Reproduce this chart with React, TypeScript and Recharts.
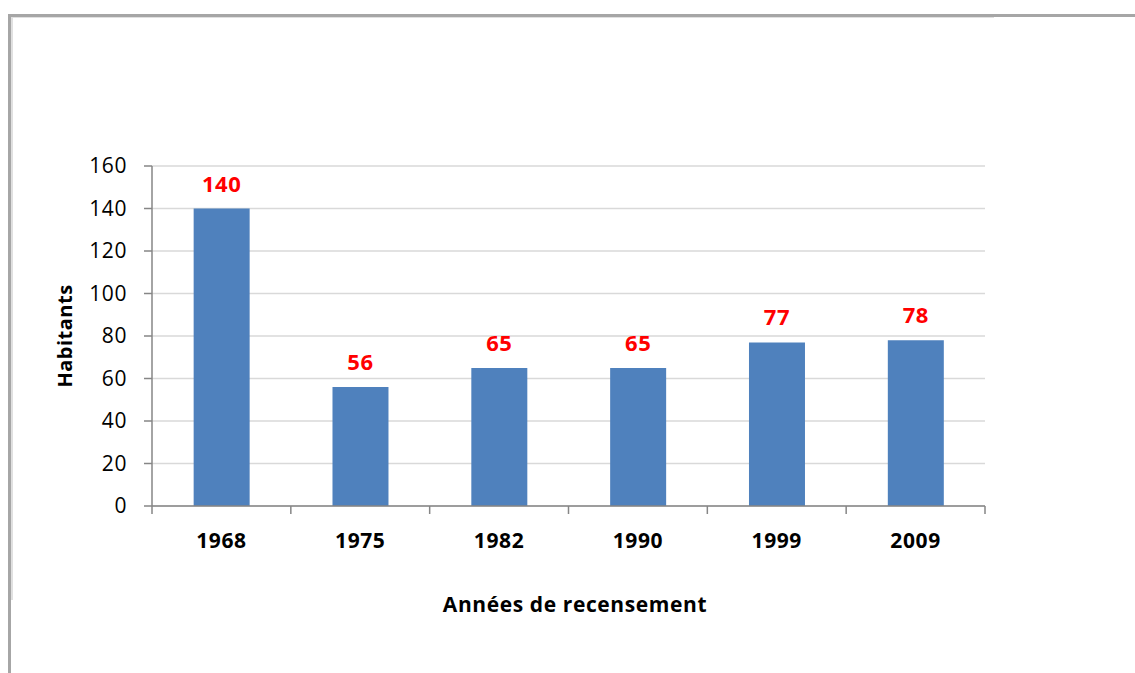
import { BarChart, Bar, XAxis, YAxis, CartesianGrid, LabelList, Label } from "recharts";

const years = ["1968", "1975", "1982", "1990", "1999", "2009"];
const habitants = [140, 56, 65, 65, 77, 78];
const yTicks = [0, 20, 40, 60, 80, 100, 120, 140, 160];

const data = years.map((year, i) => ({ year, value: habitants[i] }));

const FONT = "'Open Sans', Lato, sans-serif";
const AXIS = "#868686";
const BAND = (985 - 152) / years.length;

function YearTick(props: any) {
  const { x, y, payload, index } = props;
  const left = x - BAND / 2;
  return (
    <g>
      <line x1={left} y1={y - 8} x2={left} y2={y} stroke={AXIS} strokeWidth={1.5} />
      {index === years.length - 1 && (
        <line x1={x + BAND / 2} y1={y - 8} x2={x + BAND / 2} y2={y} stroke={AXIS} strokeWidth={1.5} />
      )}
      <text x={x} y={y + 34} textAnchor="middle" fontFamily={FONT} fontSize={21} fontWeight="bold" letterSpacing={0.6} fill="#000">
        {payload.value}
      </text>
    </g>
  );
}

export default function App() {
  return (
    <div style={{ position: "absolute", left: 0, top: 0, width: 1135, height: 673, background: "#fff" }}>
      {/* cadre */}
      <div style={{ position: "absolute", left: 8, top: 14, width: 1127, height: 3, background: "#a6a6a6" }} />
      <div style={{ position: "absolute", left: 8, top: 14, width: 3, height: 659, background: "#a6a6a6" }} />
      <div style={{ position: "absolute", left: 11, top: 17, width: 983, height: 1, background: "#e0e0e0" }} />
      <div style={{ position: "absolute", left: 11, top: 17, width: 2, height: 583, background: "#e0e0e0" }} />
      <div style={{ position: "absolute", left: 0, top: 0 }}>
        <BarChart
          width={1135}
          height={673}
          data={data}
          margin={{ top: 166, right: 150, left: 0, bottom: 0 }}
          barCategoryGap="30%"
        >
          <CartesianGrid vertical={false} stroke="#d9d9d9" strokeWidth={1.5} />
          <XAxis
            dataKey="year"
            height={167}
            tickSize={8}
            tickMargin={0}
            tickLine={false}
            axisLine={{ stroke: AXIS, strokeWidth: 1.5 }}
            tick={<YearTick />}
            interval={0}
          >
            <Label
              content={() => (
                <text x={575} y={612} textAnchor="middle" fontFamily={FONT} fontSize={21} fontWeight="bold" letterSpacing={0.6} fill="#000">
                  Années de recensement
                </text>
              )}
            />
          </XAxis>
          <YAxis
            width={152}
            domain={[0, 160]}
            ticks={yTicks}
            interval={0}
            tickSize={8}
            tickMargin={17}
            tickLine={{ stroke: AXIS, strokeWidth: 1.5 }}
            axisLine={{ stroke: AXIS, strokeWidth: 1.5 }}
            tick={{ fontFamily: FONT, fontSize: 21, fill: "#000", letterSpacing: 0.6 }}
          >
            <Label
              content={() => (
                <text
                  x={72}
                  y={336}
                  transform="rotate(-90 72 336)"
                  textAnchor="middle"
                  fontFamily={FONT}
                  fontSize={20}
                  fontWeight="bold"
                  letterSpacing={0.5}
                  fill="#000"
                >
                  Habitants
                </text>
              )}
            />
          </YAxis>
          <Bar dataKey="value" fill="#4f81bd" isAnimationActive={false}>
            <LabelList
              dataKey="value"
              position="top"
              offset={17}
              fill="#ff0000"
              fontFamily={FONT}
              fontSize={22}
              fontWeight="bold"
              letterSpacing={0.6}
            />
          </Bar>
        </BarChart>
      </div>
    </div>
  );
}
